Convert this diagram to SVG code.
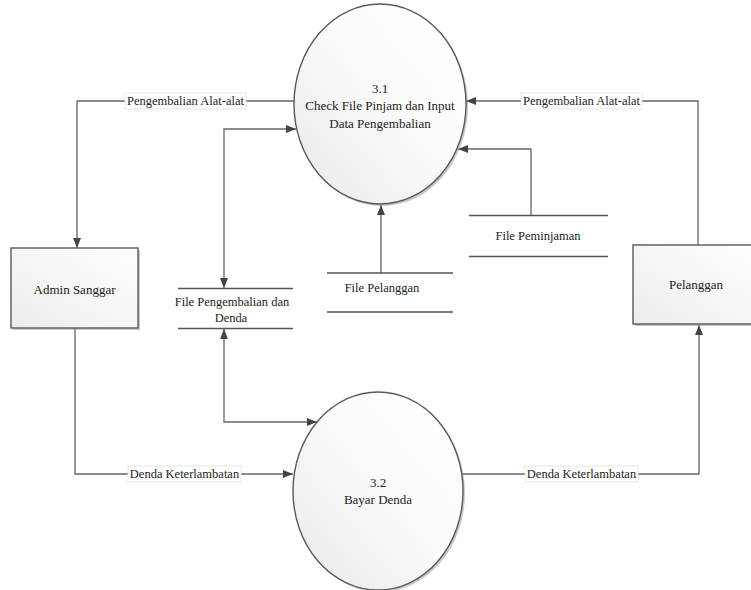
<svg xmlns="http://www.w3.org/2000/svg" width="751" height="590" viewBox="0 0 751 590">
  <style>
    .shape { stroke: #5a5a5a; stroke-width: 1.4; }
    .flow { fill: none; stroke: #666; stroke-width: 1.3; }
    .store { stroke: #555; stroke-width: 1.3; }
    .lblbg { fill: #fff; stroke: #e2e2e2; stroke-width: 0.8; }
  </style>
  <defs>
    <linearGradient id="procFill" x1="1" y1="0" x2="0" y2="1">
      <stop offset="0" stop-color="#ffffff"/>
      <stop offset="0.45" stop-color="#fbfbfb"/>
      <stop offset="1" stop-color="#e8e8e8"/>
    </linearGradient>
    <linearGradient id="entFill" x1="1" y1="0" x2="0" y2="1">
      <stop offset="0" stop-color="#ffffff"/>
      <stop offset="1" stop-color="#ececec"/>
    </linearGradient>
    <marker id="arrow" viewBox="0 0 10 8" refX="10" refY="4" markerWidth="10" markerHeight="8" markerUnits="userSpaceOnUse" orient="auto-start-reverse">
      <path d="M0,0 L10,4 L0,8 Z" fill="#444"/>
    </marker>
  </defs>

  <!-- data flows -->
  <g id="connectors">
    <!-- Admin Sanggar <- 3.1 -->
    <path class="flow" d="M297,101 H77 V248" marker-end="url(#arrow)"/>
    <!-- Pelanggan -> 3.1 -->
    <path class="flow" d="M698,245 V101 H466" marker-end="url(#arrow)"/>
    <!-- File Peminjaman -> 3.1 -->
    <path class="flow" d="M531,215 V149 H458" marker-end="url(#arrow)"/>
    <!-- File Pelanggan -> 3.1 -->
    <path class="flow" d="M381,273 V205" marker-end="url(#arrow)"/>
    <!-- 3.1 <-> File Pengembalian dan Denda -->
    <path class="flow" d="M224,288 V129 H296" marker-start="url(#arrow)" marker-end="url(#arrow)"/>
    <!-- File Pengembalian dan Denda <-> 3.2 -->
    <path class="flow" d="M224,329 V422 H317" marker-start="url(#arrow)" marker-end="url(#arrow)"/>
    <!-- Admin Sanggar -> 3.2 -->
    <path class="flow" d="M75,328 V474 H293" marker-end="url(#arrow)"/>
    <!-- 3.2 -> Pelanggan -->
    <path class="flow" d="M462,474 H699 V325" marker-end="url(#arrow)"/>

    <!-- flow labels -->
    <g font-family="Liberation Serif, Times New Roman, serif" font-size="12.5" fill="#222" text-anchor="middle">
      <rect class="lblbg" x="125" y="93" width="121" height="16"/>
      <text x="185.5" y="105">Pengembalian Alat-alat</text>
      <rect class="lblbg" x="521" y="93" width="121" height="16"/>
      <text x="581.5" y="105">Pengembalian Alat-alat</text>
      <rect class="lblbg" x="128" y="466" width="113" height="16"/>
      <text x="184.5" y="478">Denda Keterlambatan</text>
      <rect class="lblbg" x="525" y="466" width="113" height="16"/>
      <text x="581.5" y="478">Denda Keterlambatan</text>
    </g>
  </g>

  <!-- process 3.1 -->
  <g id="proc-3-1" font-family="Liberation Serif, Times New Roman, serif" font-size="13" fill="#222" text-anchor="middle">
    <ellipse cx="382" cy="106" rx="86" ry="100" fill="#9a9a9a" opacity="0.55"/>
    <ellipse class="shape" cx="380" cy="104" rx="86" ry="100" fill="url(#procFill)"/>
    <text x="380" y="93">3.1</text>
    <text x="380" y="110">Check File Pinjam dan Input</text>
    <text x="380" y="128">Data Pengembalian</text>
  </g>

  <!-- process 3.2 -->
  <g id="proc-3-2" font-family="Liberation Serif, Times New Roman, serif" font-size="13" fill="#222" text-anchor="middle">
    <ellipse cx="380" cy="493" rx="85" ry="99" fill="#9a9a9a" opacity="0.55"/>
    <ellipse class="shape" cx="378" cy="491" rx="85" ry="99" fill="url(#procFill)"/>
    <text x="378" y="487">3.2</text>
    <text x="378" y="504">Bayar Denda</text>
  </g>

  <!-- external entity: Admin Sanggar -->
  <g id="admin-sanggar" font-family="Liberation Serif, Times New Roman, serif" font-size="13" fill="#222" text-anchor="middle">
    <rect x="13" y="250" width="127" height="80" fill="#9a9a9a" opacity="0.55"/>
    <rect class="shape" x="11" y="248" width="127" height="80" fill="url(#entFill)"/>
    <text x="74.5" y="294">Admin Sanggar</text>
  </g>

  <!-- external entity: Pelanggan -->
  <g id="pelanggan" font-family="Liberation Serif, Times New Roman, serif" font-size="13" fill="#222" text-anchor="middle">
    <rect x="635" y="247" width="122" height="79" fill="#9a9a9a" opacity="0.55"/>
    <rect class="shape" x="633" y="245" width="122" height="79" fill="url(#entFill)"/>
    <text x="696" y="289">Pelanggan</text>
  </g>

  <!-- data store: File Peminjaman -->
  <g id="file-peminjaman" font-family="Liberation Serif, Times New Roman, serif" font-size="12.5" fill="#222" text-anchor="middle">
    <line class="store" x1="469" y1="215.5" x2="608" y2="215.5"/>
    <line class="store" x1="469" y1="256.5" x2="608" y2="256.5"/>
    <text x="538" y="240">File Peminjaman</text>
  </g>

  <!-- data store: File Pelanggan -->
  <g id="file-pelanggan" font-family="Liberation Serif, Times New Roman, serif" font-size="12.5" fill="#222" text-anchor="middle">
    <line class="store" x1="327" y1="273" x2="453" y2="273"/>
    <line class="store" x1="327" y1="312" x2="453" y2="312"/>
    <text x="382" y="292">File Pelanggan</text>
  </g>

  <!-- data store: File Pengembalian dan Denda -->
  <g id="file-pengembalian-denda" font-family="Liberation Serif, Times New Roman, serif" font-size="12.5" fill="#222" text-anchor="middle">
    <line class="store" x1="178" y1="288.5" x2="293" y2="288.5"/>
    <line class="store" x1="178" y1="328.5" x2="293" y2="328.5"/>
    <text x="232" y="306">File Pengembalian dan</text>
    <text x="231" y="322">Denda</text>
  </g>
</svg>
